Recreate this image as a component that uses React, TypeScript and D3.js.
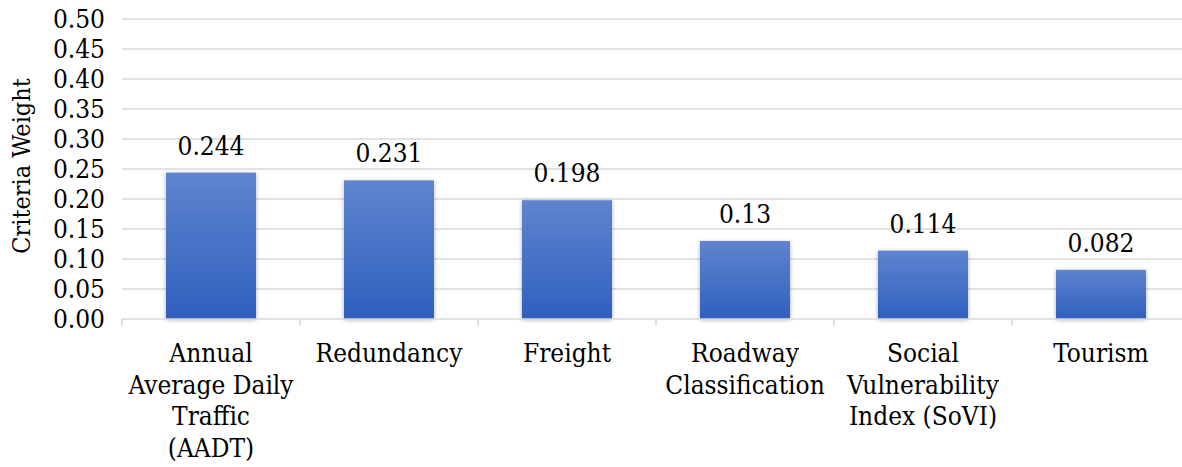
import React from "react";
import * as d3 from "d3";

const categories = [
  "Annual\nAverage Daily\nTraffic\n(AADT)",
  "Redundancy",
  "Freight",
  "Roadway\nClassification",
  "Social\nVulnerability\nIndex (SoVI)",
  "Tourism",
];
const values = [0.244, 0.231, 0.198, 0.13, 0.114, 0.082];
const valueLabels = ["0.244", "0.231", "0.198", "0.13", "0.114", "0.082"];
const yTicks = [0, 0.05, 0.1, 0.15, 0.2, 0.25, 0.3, 0.35, 0.4, 0.45, 0.5];
const yTitle = "Criteria Weight";

const W = 1182;
const H = 467;
const left = 122;
const right = 1190;
const top = 19;
const bottom = 319;
const fontStyle: React.CSSProperties = { fontFamily: "'DejaVu Serif Condensed', 'DejaVu Serif'", fontStretch: "condensed" };

export default function App() {
  const x = d3.scaleBand<number>().domain(d3.range(categories.length)).range([left, right]).paddingInner(0.494).paddingOuter(0.247);
  const y = d3.scaleLinear().domain([0, 0.5]).range([bottom, top]);
  const band = (right - left) / categories.length;
  const fs = 26;

  return (
    <svg width={W} height={H} style={{ position: "absolute", left: 0, top: 0, background: "#fff" }}>
      <defs>
        <linearGradient id="barGrad" x1="0" y1="0" x2="0" y2="1">
          <stop offset="0%" stopColor="#5f84cf" />
          <stop offset="100%" stopColor="#2f60be" />
        </linearGradient>
        <filter id="shadow" x="-20%" y="-20%" width="140%" height="140%">
          <feDropShadow dx="0" dy="1" stdDeviation="2" floodColor="#000" floodOpacity="0.3" />
        </filter>
      </defs>
      <g style={fontStyle}>
        {yTicks.map((t) => (
          <g key={t}>
            {t > 0 && (
              <line x1={left} x2={right} y1={y(t)} y2={y(t)} stroke="#d9d9d9" strokeWidth={1.5} />
            )}
            <text x={105} y={y(t)} dy="0.36em" textAnchor="end" fontSize={fs} fill="#000">
              {t.toFixed(2)}
            </text>
          </g>
        ))}
        <text
          transform={`translate(30,166) rotate(-90)`}
          textAnchor="middle"
          fontSize={25}
          fill="#000"
        >
          {yTitle}
        </text>
        {values.map((v, i) => (
          <rect
            key={i}
            x={x(i)}
            y={y(v)}
            width={x.bandwidth()}
            height={bottom - y(v)}
            fill="url(#barGrad)"
            filter="url(#shadow)"
          />
        ))}
        <line x1={left} x2={right} y1={bottom} y2={bottom} stroke="#d9d9d9" strokeWidth={1.5} />
        {d3.range(categories.length + 1).map((i) => (
          <line key={i} x1={left + i * band} x2={left + i * band} y1={bottom} y2={bottom + 7} stroke="#d9d9d9" strokeWidth={1.5} />
        ))}
        {values.map((v, i) => (
          <text key={i} x={x(i)! + x.bandwidth() / 2} y={y(v) - 18} textAnchor="middle" fontSize={fs} fill="#000">
            {valueLabels[i]}
          </text>
        ))}
        {categories.map((c, i) => (
          <text key={i} x={x(i)! + x.bandwidth() / 2} y={362} textAnchor="middle" fontSize={fs} fill="#000">
            {c.split("\n").map((ln, j) => (
              <tspan key={j} x={x(i)! + x.bandwidth() / 2} y={362 + j * 31.7}>
                {ln}
              </tspan>
            ))}
          </text>
        ))}
      </g>
    </svg>
  );
}
